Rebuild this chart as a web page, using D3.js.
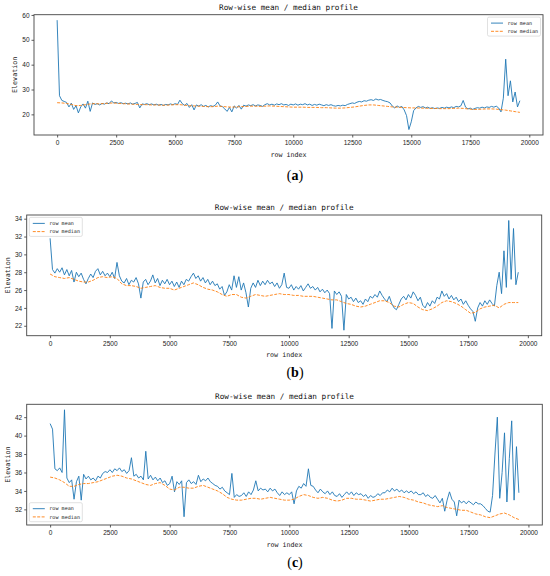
<!DOCTYPE html>
<html>
<head>
<meta charset="utf-8">
<script src="https://cdn.jsdelivr.net/npm/d3@7"></script>
<style>
  body { margin: 0; background: #fff; }
  .tick text { font-family: "Liberation Sans", Arial, sans-serif; font-size: 6.5px; fill: #222; }
  .tick line { stroke: #333; stroke-width: 0.8; }
  .title { font-family: "DejaVu Sans Mono", monospace; font-size: 7.7px; fill: #111; }
  .lab { font-family: "DejaVu Sans Mono", monospace; font-size: 6.7px; fill: #222; }
  .leg { font-family: "DejaVu Sans Mono", monospace; font-size: 5.1px; fill: #222; }
  .cap { font-family: "Liberation Serif", serif; font-size: 14px; font-weight: bold; fill: #000; }
</style>
</head>
<body>
<script>
// ---- data ----
// row mean sampled every 100 rows (0..19600), row median every 200 rows (0..19600)
var meanStep = 100, medianStep = 200;

var meanA = [
  57.9, 27.5, 25.6, 25.2, 24.8, 23.0, 24.5, 22.0, 23.5, 20.6,   // 0
  23.0, 24.2, 22.5, 25.3, 21.2, 24.6, 24.0, 24.3, 23.8, 24.4,   // 1000
  24.1, 24.6, 24.3, 25.4, 24.6, 24.8, 24.4, 24.7, 24.3, 24.5,   // 2000
  24.2, 24.6, 24.1, 24.4, 24.8, 22.6, 24.2, 24.0, 24.3, 23.9,   // 3000
  24.2, 23.8, 24.1, 23.7, 24.0, 23.6, 24.0, 23.8, 24.2, 23.9,   // 4000
  24.3, 24.0, 25.7, 24.3, 23.6, 24.4, 22.8, 23.9, 21.8, 23.8,   // 5000
  23.3, 23.9, 23.2, 23.6, 23.0, 23.5, 23.2, 23.7, 25.0, 23.4,   // 6000
  23.1, 22.2, 21.2, 22.8, 21.0, 23.4, 22.5, 23.6, 22.1, 23.7,   // 7000
  23.3, 23.8, 23.5, 23.9, 23.4, 23.8, 23.6, 23.2, 23.9, 24.3,   // 8000
  23.8, 24.1, 23.7, 24.2, 23.9, 24.3, 23.8, 24.0, 23.6, 24.1,   // 9000
  23.8, 24.2, 23.7, 24.1, 23.9, 24.3, 23.8, 24.1, 23.6, 24.0,   // 10000
  23.7, 24.1, 23.8, 23.5, 23.9, 23.6, 23.9, 23.5, 23.3, 23.6,   // 11000
  23.4, 23.7, 23.5, 24.0, 24.3, 24.6, 24.4, 24.9, 25.2, 25.0,   // 12000
  25.5, 25.3, 25.7, 25.9, 25.6, 26.2, 25.8, 26.0, 25.6, 25.3,   // 13000
  25.1, 24.6, 23.3, 22.6, 23.4, 22.8, 23.2, 21.8, 19.5, 13.9,   // 14000
  17.0, 21.5, 22.6, 23.2, 22.8, 23.1, 22.6, 22.9, 22.4, 22.7,   // 15000
  22.3, 22.6, 22.4, 22.8, 22.5, 22.9, 22.6, 23.0, 22.7, 23.2,   // 16000
  23.0, 23.4, 25.6, 22.9, 22.2, 22.5, 22.0, 22.4, 22.7, 22.5,   // 17000
  22.9, 22.6, 23.0, 22.8, 23.2, 22.9, 23.3, 22.6, 21.0, 26.5,   // 18000
  42.2, 27.5, 33.5, 25.0, 29.0, 23.0, 25.5                      // 19000
];
var medianA = [
  24.7, 24.6, 24.4, 24.0, 23.5, 23.6, 23.9, 24.2, 24.3, 24.2,
  24.4, 24.5, 24.6, 24.4, 24.3, 24.2, 24.1, 24.0, 23.9, 23.9,
  23.8, 23.8, 23.7, 23.7, 23.8, 23.9, 23.9, 23.7, 23.5, 23.4,
  23.3, 23.2, 23.1, 23.1, 23.3, 23.2, 23.0, 22.9, 23.0, 23.1,
  23.2, 23.3, 23.3, 23.2, 23.3, 23.4, 23.3, 23.2, 23.1, 23.0,
  22.9, 22.9, 22.9, 22.8, 22.8, 22.8, 22.7, 22.7, 22.6, 22.5,
  22.5, 22.6, 22.8, 23.0, 23.3, 23.6, 23.8, 23.8, 23.6, 23.4,
  23.2, 23.0, 22.9, 22.8, 22.7, 22.6, 22.6, 22.5, 22.5, 22.4,
  22.4, 22.3, 22.3, 22.3, 22.4, 22.5, 22.4, 22.2, 22.0, 22.0,
  22.1, 22.2, 22.2, 22.1, 21.9, 21.7, 21.4, 21.1, 20.8
];

var meanB = [
  31.8, 28.3, 27.9, 28.4, 28.0, 28.5, 27.7, 28.3, 27.6, 28.2,   // 0
  26.9, 28.0, 27.5, 27.9, 27.2, 26.7, 27.3, 27.8, 27.4, 28.1,   // 1000
  28.4, 27.7, 28.1, 27.6, 27.9, 27.5, 28.0, 27.3, 29.1, 27.6,   // 2000
  27.0, 26.8, 27.3, 26.6, 27.1, 26.9, 27.4, 26.7, 25.1, 26.9,   // 3000
  27.2, 26.6, 27.0, 27.7, 26.8, 27.3, 26.5, 27.1, 26.7, 27.2,   // 4000
  26.6, 27.0, 26.4, 26.9, 26.3, 27.0, 26.6, 27.2, 27.0, 27.5,   // 5000
  27.9, 27.3, 27.6, 27.0, 27.4, 26.8, 27.2, 26.6, 27.0, 26.5,   // 6000
  26.7, 26.1, 26.4, 25.4, 25.8, 26.6, 26.0, 27.6, 26.3, 27.5,   // 7000
  26.0, 26.8, 25.7, 24.1, 26.2, 26.8, 26.3, 27.1, 26.5, 27.0,   // 8000
  26.6, 27.1, 26.7, 26.9, 26.4, 26.8, 26.2, 26.6, 27.9, 26.3,   // 9000
  26.2, 26.6, 26.0, 26.4, 26.1, 26.5, 25.9, 26.3, 26.7, 26.2,   // 10000
  26.4, 26.0, 26.3, 25.8, 26.1, 25.7, 26.0, 25.6, 21.7, 25.9,   // 11000
  25.5, 25.8, 25.3, 21.5, 25.5, 25.0, 25.2, 24.7, 25.1, 24.6,   // 12000
  24.8, 24.4, 25.0, 24.7, 25.3, 25.1, 25.5, 25.2, 25.9, 25.4,   // 13000
  25.0, 24.7, 25.3, 24.5, 24.0, 23.8, 24.4, 25.0, 25.3, 24.9,   // 14000
  25.5, 25.1, 25.8, 25.4, 24.8, 25.2, 24.3, 24.0, 24.6, 24.2,   // 15000
  24.8, 24.5, 25.2, 25.0, 25.9, 25.3, 25.6, 25.0, 25.4, 24.9,   // 16000
  25.2, 24.7, 25.0, 24.4, 24.8, 24.3, 23.9, 23.6, 22.5, 24.0,   // 17000
  24.6, 24.2, 24.8, 24.4, 24.9, 24.5, 24.2, 26.5, 28.0, 25.6,   // 18000
  30.4, 26.3, 33.8, 27.2, 32.9, 26.6, 28.0                      // 19000
];
var medianB = [
  27.8, 27.5, 27.4, 27.3, 27.4, 27.2, 27.0, 26.9, 26.9, 27.1,
  27.4, 27.5, 27.4, 27.5, 27.3, 26.7, 26.5, 26.5, 26.4, 26.2,
  26.3, 26.4, 26.5, 26.3, 26.2, 26.2, 26.0, 26.2, 26.4, 26.6,
  26.8, 26.6, 26.3, 26.1, 26.0, 25.8, 25.5, 25.3, 25.5, 25.5,
  25.2, 25.1, 25.3, 25.5, 25.4, 25.3, 25.4, 25.5, 25.6, 25.5,
  25.5, 25.4, 25.4, 25.3, 25.3, 25.3, 25.2, 25.1, 25.0, 24.9,
  24.9, 24.7, 24.5, 24.4, 24.2, 24.1, 24.2, 24.4, 24.6, 24.8,
  24.8, 24.6, 24.2, 24.1, 24.4, 24.6, 24.5, 24.1, 23.8, 23.7,
  23.9, 24.2, 24.6, 24.8, 24.7, 24.5, 24.2, 23.8, 23.4, 23.5,
  23.9, 24.1, 24.2, 24.3, 24.0, 24.4, 24.6, 24.6, 24.6
];

var meanC = [
  41.3, 40.7, 36.4, 36.2, 36.5, 36.0, 42.8, 35.4, 34.9, 35.2,   // 0
  33.1, 35.0, 35.6, 33.0, 35.8, 35.3, 35.6, 35.2, 35.4, 35.1,   // 1000
  35.6, 35.4, 35.9, 36.1, 36.0, 36.3, 36.0, 36.4, 36.2, 36.5,   // 2000
  36.1, 36.3, 35.9, 36.2, 37.6, 35.6, 35.8, 35.4, 35.6, 35.2,   // 3000
  38.3, 35.3, 35.7, 35.2, 35.5, 35.1, 35.4, 34.9, 35.1, 34.6,   // 4000
  34.8, 35.6, 33.9, 35.0, 34.7, 35.1, 31.2, 34.9, 35.2, 34.8,   // 5000
  35.0, 34.7, 35.7, 35.0, 35.3, 35.1, 35.4, 35.0, 34.8, 34.6,   // 6000
  34.5, 34.2, 34.4, 34.0, 33.8, 33.6, 35.9, 33.3, 33.6, 33.4,   // 7000
  33.5, 33.8, 33.4, 33.9, 33.6, 34.1, 35.1, 34.0, 34.3, 34.1,   // 8000
  34.2, 33.9, 34.3, 34.0, 34.2, 33.8, 33.5, 33.9, 33.6, 33.8,   // 9000
  33.6, 33.9, 32.6, 34.0, 34.5, 34.3, 34.8, 34.5, 36.4, 34.6,   // 10000
  34.5, 34.1, 33.8, 34.2, 33.9, 33.7, 34.0, 33.6, 33.9, 33.5,   // 11000
  33.4, 33.7, 33.3, 33.6, 33.9, 33.6, 33.9, 33.5, 33.8, 33.6,   // 12000
  33.7, 33.4, 33.6, 33.2, 33.5, 33.3, 33.4, 33.7, 33.5, 33.8,   // 13000
  33.8, 34.1, 33.9, 34.3, 34.0, 34.2, 33.9, 34.1, 33.8, 34.0,   // 14000
  33.8, 34.0, 33.7, 33.9, 33.6, 33.6, 33.8, 33.4, 33.6, 33.3,   // 15000
  33.2, 33.5, 33.1, 32.7, 33.2, 31.8, 33.0, 33.9, 33.1, 32.8,   // 16000
  31.3, 33.0, 32.7, 32.9, 32.6, 32.9, 32.7, 32.5, 32.8, 32.6,   // 17000
  32.6, 32.4, 32.1, 31.8, 31.7, 33.5, 38.0, 42.0, 33.2, 36.0,   // 18000
  40.3, 32.8, 37.5, 41.6, 33.0, 38.8, 33.8                      // 19000
];
var medianC = [
  35.5, 35.4, 35.2, 34.9, 34.5, 34.5, 34.7, 34.8, 34.8, 34.9,
  35.0, 35.2, 35.4, 35.6, 35.7, 35.6, 35.4, 35.3, 35.1, 34.9,
  34.7, 34.6, 34.8, 34.9, 34.6, 34.2, 34.1, 34.4, 34.4, 34.3,
  34.3, 34.5, 34.6, 34.4, 34.2, 34.0, 33.7, 33.3, 33.1, 33.0,
  33.0, 33.1, 33.2, 33.2, 33.1, 33.2, 33.3, 33.2, 33.1, 33.0,
  33.0, 33.1, 33.4, 33.6, 33.5, 33.3, 33.2, 33.3, 33.2, 33.0,
  32.9, 33.0, 33.2, 33.2, 33.1, 33.1, 33.0, 32.9, 33.0, 33.1,
  33.1, 33.2, 33.3, 33.4, 33.3, 33.1, 33.0, 32.8, 32.7, 32.5,
  32.4, 32.3, 32.4, 32.2, 32.1, 32.0, 31.9, 31.9, 31.7, 31.5,
  31.4, 31.2, 31.1, 31.3, 31.5, 31.6, 31.4, 31.1, 30.9
];

var xTicks = [0, 2500, 5000, 7500, 10000, 12500, 15000, 17500, 20000];
var yTicksA = [20, 30, 40, 50, 60];
var yTicksB = [22, 24, 26, 28, 30, 32, 34];
var yTicksC = [32, 34, 36, 38, 40, 42];
var seriesNames = ["row mean", "row median"];
var titleText = "Row-wise mean / median profile";
var xLabel = "row index", yLabel = "Elevation";
var captions = ["a", "b", "c"];

// ---- layout ----
var W = 550, H = 576;
var blue = "#1f77b4", orange = "#ff7f0e";

var svg = d3.select("body").append("svg")
    .attr("width", W).attr("height", H);

var panels = [
  {mean: meanA, median: medianA, yTicks: yTicksA, legend: "upper right",
   box: {l: 34, r: 543, t: 14.7, b: 135}, capY: 180},
  {mean: meanB, median: medianB, yTicks: yTicksB, legend: "upper left",
   box: {l: 26.7, r: 541.7, t: 215, b: 335.7}, capY: 377},
  {mean: meanC, median: medianC, yTicks: yTicksC, legend: "lower left",
   box: {l: 26.7, r: 542.3, t: 404.3, b: 525}, capY: 567}
];

function padded(lo, hi) {
  var m = (hi - lo) * 0.05;
  return [lo - m, hi + m];
}

panels.forEach(function(p, k) {
  var bx = p.box;
  var g = svg.append("g");

  var xMax = (p.mean.length - 1) * meanStep;
  var x = d3.scaleLinear().domain(padded(0, xMax)).range([bx.l, bx.r]);
  var all = p.mean.concat(p.median);
  var y = d3.scaleLinear().domain(padded(d3.min(all), d3.max(all))).range([bx.b, bx.t]);

  // clip so nothing leaks out of the frame
  g.append("clipPath").attr("id", "clip" + k)
    .append("rect").attr("x", bx.l).attr("y", bx.t)
    .attr("width", bx.r - bx.l).attr("height", bx.b - bx.t);

  var lineMean = d3.line()
      .x(function(d, i) { return x(i * meanStep); })
      .y(function(d) { return y(d); });
  var lineMed = d3.line()
      .x(function(d, i) { return x(i * medianStep); })
      .y(function(d) { return y(d); });

  var plot = g.append("g").attr("clip-path", "url(#clip" + k + ")");
  plot.append("path").datum(p.mean)
    .attr("d", lineMean).attr("fill", "none")
    .attr("stroke", blue).attr("stroke-width", 0.9)
    .attr("stroke-linejoin", "round");
  plot.append("path").datum(p.median)
    .attr("d", lineMed).attr("fill", "none")
    .attr("stroke", orange).attr("stroke-width", 0.9)
    .attr("stroke-dasharray", "3,1.4");

  // axes
  var xa = g.append("g").attr("transform", "translate(0," + bx.b + ")")
    .call(d3.axisBottom(x).tickValues(xTicks).tickSize(2.5).tickPadding(3).tickFormat(d3.format("d")));
  var ya = g.append("g").attr("transform", "translate(" + bx.l + ",0)")
    .call(d3.axisLeft(y).tickValues(p.yTicks).tickSize(2.5).tickPadding(2).tickFormat(d3.format("d")));
  xa.select(".domain").remove();
  ya.select(".domain").remove();

  g.append("rect").attr("x", bx.l).attr("y", bx.t)
    .attr("width", bx.r - bx.l).attr("height", bx.b - bx.t)
    .attr("fill", "none").attr("stroke", "#444").attr("stroke-width", 0.9);

  var cx = (bx.l + bx.r) / 2;
  g.append("text").attr("class", "title")
    .attr("x", cx).attr("y", bx.t - 5).attr("text-anchor", "middle").text(titleText);
  g.append("text").attr("class", "lab")
    .attr("x", cx).attr("y", bx.b + 21.5).attr("text-anchor", "middle").text(xLabel);
  g.append("text").attr("class", "lab")
    .attr("transform", "translate(" + (bx.l - 17) + "," + ((bx.t + bx.b) / 2) + ") rotate(-90)")
    .attr("text-anchor", "middle").text(yLabel);

  // legend
  var lw = 53, lh = 19;
  var lx = p.legend === "upper right" ? bx.r - 2.5 - lw : bx.l + 2.6;
  var ly = p.legend === "lower left" ? bx.b - 3.3 - lh : bx.t + 2.4;
  var lg = g.append("g").attr("transform", "translate(" + lx + "," + ly + ")");
  lg.append("rect").attr("width", lw).attr("height", lh).attr("rx", 1.5)
    .attr("fill", "#fff").attr("fill-opacity", 0.85)
    .attr("stroke", "#d4d4d4").attr("stroke-width", 0.7);
  seriesNames.forEach(function(name, j) {
    var yy = 6 + j * 8.2;
    lg.append("line").attr("x1", 3.5).attr("x2", 15.5).attr("y1", yy).attr("y2", yy)
      .attr("stroke", j === 0 ? blue : orange).attr("stroke-width", 0.9)
      .attr("stroke-dasharray", j === 0 ? null : "3,1.4");
    lg.append("text").attr("class", "leg").attr("x", 20).attr("y", yy + 1.8).text(name);
  });

  // caption (a)/(b)/(c)
  var cap = svg.append("text").attr("class", "cap")
    .attr("x", 295).attr("y", p.capY).attr("text-anchor", "middle");
  cap.append("tspan").attr("font-weight", "normal").text("(");
  cap.append("tspan").text(captions[k]);
  cap.append("tspan").attr("font-weight", "normal").text(")");
});
</script>
</body>
</html>
